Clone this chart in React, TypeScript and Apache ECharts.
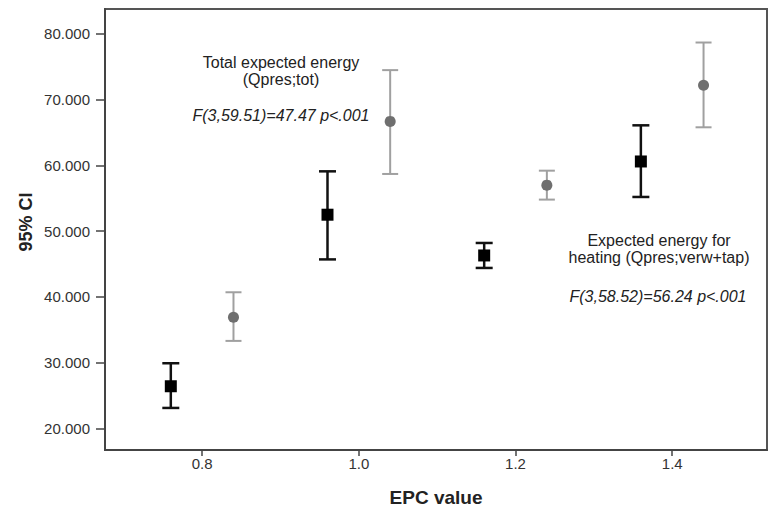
import React, { useEffect, useRef } from "react";
import * as echarts from "echarts";

// EPC value positions (offset either side of the EPC category)
const heatingX = [0.76, 0.96, 1.16, 1.36];
const heatingMean = [26.4, 52.5, 46.3, 60.6];
const heatingLow = [23.1, 45.7, 44.4, 55.2];
const heatingHigh = [29.9, 59.1, 48.2, 66.1];

const totalX = [0.84, 1.04, 1.24, 1.44];
const totalMean = [36.9, 66.7, 57.0, 72.2];
const totalLow = [33.3, 58.7, 54.8, 65.8];
const totalHigh = [40.7, 74.5, 59.2, 78.7];

const xTicks = [0.8, 1.0, 1.2, 1.4];
const yTicks = [20, 30, 40, 50, 60, 70, 80];

const FONT = "'Liberation Sans', Arial, sans-serif";

function errorSeries(xs: number[], lo: number[], hi: number[], color: string, lw: number, hw: number) {
  return {
    type: "custom",
    z: 2,
    data: xs.map((x, i) => [x, lo[i], hi[i]]),
    renderItem: (_params: any, api: any) => {
      const x = api.value(0);
      const pLo = api.coord([x, api.value(1)]);
      const pHi = api.coord([x, api.value(2)]);
      const style = { stroke: color, lineWidth: lw };
      return {
        type: "group",
        children: [
          { type: "line", shape: { x1: pLo[0], y1: pLo[1], x2: pHi[0], y2: pHi[1] }, style },
          { type: "line", shape: { x1: pLo[0] - hw, y1: pLo[1], x2: pLo[0] + hw, y2: pLo[1] }, style },
          { type: "line", shape: { x1: pHi[0] - hw, y1: pHi[1], x2: pHi[0] + hw, y2: pHi[1] }, style },
        ],
      };
    },
  };
}

export default function App() {
  const ref = useRef<HTMLDivElement>(null);
  useEffect(() => {
    if (!ref.current) return;
    const chart = echarts.init(ref.current, undefined, { renderer: "svg" });
    chart.setOption({
      animation: false,
      backgroundColor: "#ffffff",
      grid: {
        left: 105,
        top: 9,
        right: 4,
        bottom: 59,
        show: true,
        borderColor: "#555",
        borderWidth: 2,
      },
      xAxis: {
        type: "value",
        min: 0.676,
        max: 1.521,
        name: "EPC value",
        nameLocation: "middle",
        nameGap: 38,
        nameTextStyle: { fontFamily: FONT, fontSize: 19, fontWeight: "bold", color: "#222" },
        splitLine: { show: false },
        axisLine: { show: true, lineStyle: { color: "#444", width: 2 } },
        axisTick: { show: true, length: 6, lineStyle: { color: "#444", width: 1.5 }, customValues: xTicks },
        axisLabel: {
          fontFamily: FONT,
          fontSize: 15,
          color: "#333",
          margin: 6,
          customValues: xTicks,
          formatter: (v: number) => v.toFixed(1),
        },
      },
      yAxis: {
        type: "value",
        min: 16.7,
        max: 83.8,
        splitLine: { show: false },
        axisLine: { show: true, lineStyle: { color: "#444", width: 2 } },
        axisTick: { show: true, length: 9, lineStyle: { color: "#444", width: 1.5 }, customValues: yTicks },
        axisLabel: {
          fontFamily: FONT,
          fontSize: 15,
          color: "#333",
          margin: 15,
          customValues: yTicks,
          formatter: (v: number) => v.toFixed(3),
        },
      },
      graphic: [
        {
          type: "text",
          x: 26,
          y: 222,
          rotation: Math.PI / 2,
          style: {
            text: "95% CI",
            font: `bold 18px ${FONT}`,
            fill: "#222",
            align: "center",
            verticalAlign: "middle",
          },
        },
        {
          type: "text",
          x: 281,
          y: 54,
          style: {
            text: "Total expected energy\n(Qpres;tot)",
            font: `16px ${FONT}`,
            fill: "#222",
            align: "center",
            lineHeight: 17,
          },
        },
        {
          type: "text",
          x: 281,
          y: 107,
          style: {
            text: "F(3,59.51)=47.47 p<.001",
            font: `italic 16px ${FONT}`,
            fill: "#222",
            align: "center",
          },
        },
        {
          type: "text",
          x: 659,
          y: 232,
          style: {
            text: "Expected energy for\nheating (Qpres;verw+tap)",
            font: `16px ${FONT}`,
            fill: "#222",
            align: "center",
            lineHeight: 17,
          },
        },
        {
          type: "text",
          x: 658,
          y: 288,
          style: {
            text: "F(3,58.52)=56.24 p<.001",
            font: `italic 16px ${FONT}`,
            fill: "#222",
            align: "center",
          },
        },
      ],
      series: [
        errorSeries(heatingX, heatingLow, heatingHigh, "#111", 2.5, 8.5),
        errorSeries(totalX, totalLow, totalHigh, "#a0a0a0", 2, 8),
        {
          type: "scatter",
          z: 3,
          symbol: "rect",
          symbolSize: 12,
          itemStyle: { color: "#000", opacity: 1 },
          data: heatingX.map((x, i) => [x, heatingMean[i]]),
        },
        {
          type: "scatter",
          z: 3,
          symbol: "circle",
          symbolSize: 11,
          itemStyle: { color: "#6f6f6f", opacity: 1 },
          data: totalX.map((x, i) => [x, totalMean[i]]),
        },
      ],
    });
    return () => chart.dispose();
  }, []);
  return <div ref={ref} style={{ width: 771, height: 512, position: "absolute", left: 0, top: 0 }} />;
}
